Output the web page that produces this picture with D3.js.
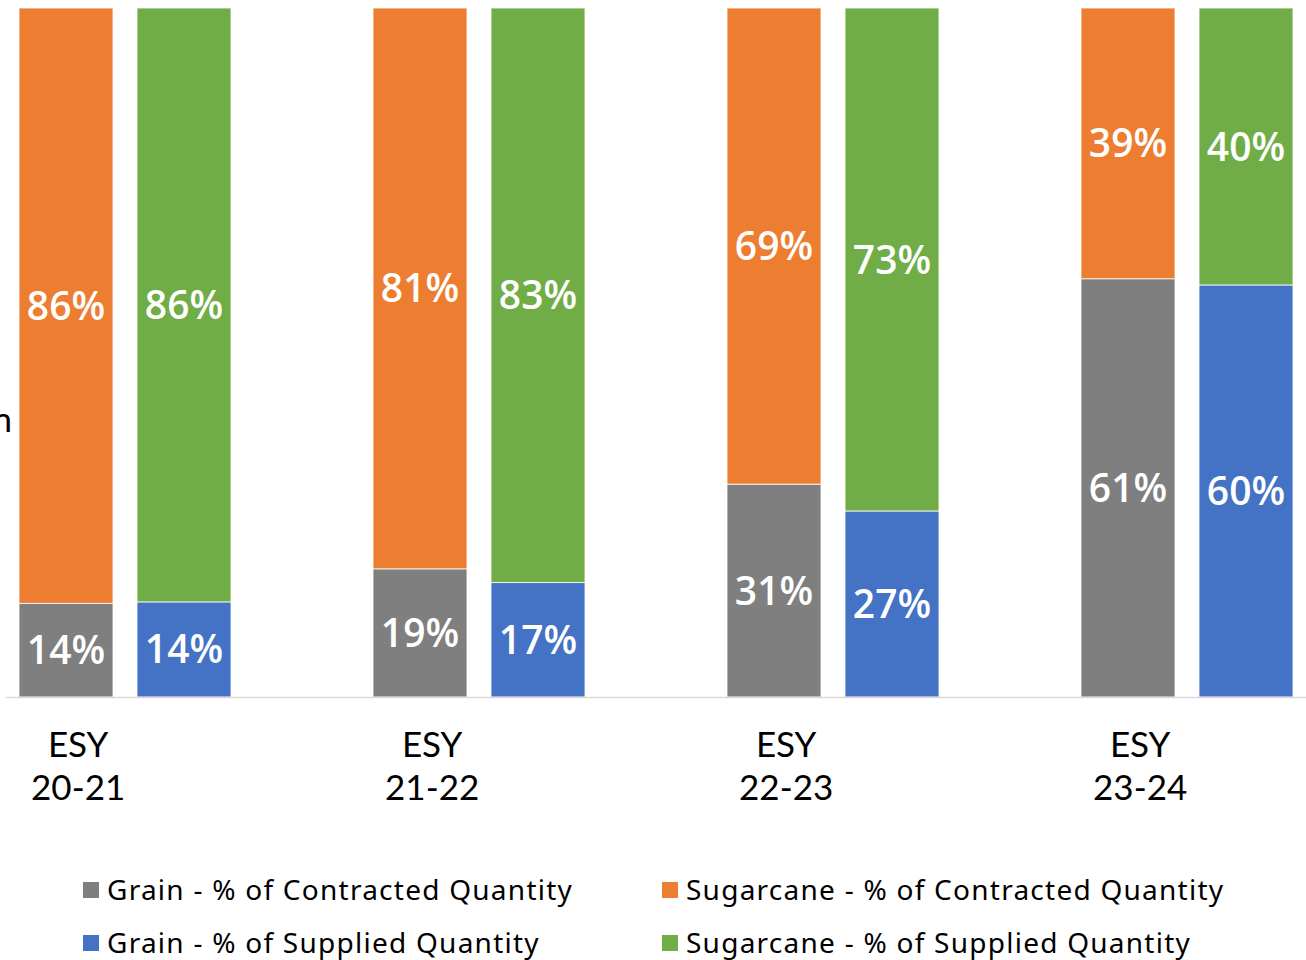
<!DOCTYPE html>
<html>
<head>
<meta charset="utf-8">
<script src="https://cdn.jsdelivr.net/npm/d3@7"></script>
<style>
  body { margin: 0; background: #fff; }
  svg { display: block; }
  .lbl { font-family: "Open Sans", sans-serif; font-weight: 600; font-size: 39px; fill: #fff; }
  .cat { font-family: Lato, sans-serif; font-size: 35px; fill: #000; }
  .leg { font-family: "Noto Sans", sans-serif; font-size: 28px; letter-spacing: 1.25px; fill: #000; }
</style>
</head>
<body>
<svg id="chart" width="1306" height="960"></svg>
<script>
// categories and series (labels show rounded values)
var categories = ["ESY 20-21", "ESY 21-22", "ESY 22-23", "ESY 23-24"];
var grainContracted = [13.6, 18.6, 30.9, 60.7];
var sugarContracted = [86.4, 81.4, 69.1, 39.3];
var grainSupplied = [13.8, 16.6, 27.0, 59.8];
var sugarSupplied = [86.2, 83.4, 73.0, 40.2];
var seriesNames = [
  "Grain - % of Contracted Quantity",
  "Sugarcane - % of Contracted Quantity",
  "Grain - % of Supplied Quantity",
  "Sugarcane - % of Supplied Quantity"
];
var colors = ["#7f7f7f", "#ed7d31", "#4472c4", "#70ad47"];

var svg = d3.select("#chart");
var baseY = 697, topY = 8;

var x0 = d3.scaleBand()
    .domain(categories)
    .range([19, 1293])
    .paddingInner(142 / 354)
    .paddingOuter(0);

var x1 = d3.scaleBand()
    .domain(["contracted", "supplied"])
    .range([0, x0.bandwidth()])
    .paddingInner(24 / 118)
    .paddingOuter(0);

var y = d3.scaleLinear()
    .domain([0, 100])
    .range([baseY, topY]);

var bars = [
  { kind: "contracted", bottom: grainContracted, top: sugarContracted, cBottom: colors[0], cTop: colors[1] },
  { kind: "supplied", bottom: grainSupplied, top: sugarSupplied, cBottom: colors[2], cTop: colors[3] }
];

// cropped axis title, only its last letter shows
svg.append("text")
    .attr("class", "cat")
    .attr("x", 12)
    .attr("y", 432)
    .attr("text-anchor", "end")
    .text("n");

bars.forEach(function (b) {
    var table = categories.map(function (c, i) {
        return { cat: c, bottom: b.bottom[i], top: b.top[i] };
    });
    var stacked = d3.stack().keys(["bottom", "top"])(table);
    var fills = { bottom: b.cBottom, top: b.cTop };

    stacked.forEach(function (layer) {
        var g = svg.append("g");
        g.selectAll("rect")
            .data(layer)
            .enter().append("rect")
            .attr("x", function (d) { return x0(d.data.cat) + x1(b.kind); })
            .attr("width", x1.bandwidth())
            .attr("y", function (d) { return y(d[1]); })
            .attr("height", function (d) { return y(d[0]) - y(d[1]); })
            .attr("fill", fills[layer.key])
            .attr("stroke", "#fff")
            .attr("stroke-width", 0.8);

        g.selectAll("text")
            .data(layer)
            .enter().append("text")
            .attr("class", "lbl")
            .attr("x", function (d) { return x0(d.data.cat) + x1(b.kind) + x1.bandwidth() / 2; })
            .attr("y", function (d) { return (y(d[0]) + y(d[1])) / 2; })
            .attr("dy", "0.36em")
            .attr("text-anchor", "middle")
            .text(function (d) { return Math.round(d.data[layer.key]) + "%"; });
    });
});

// baseline
svg.append("line")
    .attr("x1", 6).attr("x2", 1306)
    .attr("y1", baseY + 0.5).attr("y2", baseY + 0.5)
    .attr("stroke", "#d9d9d9")
    .attr("stroke-width", 1.5);

// category labels, two lines each
var cats = svg.selectAll(".catg")
    .data(categories)
    .enter().append("text")
    .attr("class", "cat")
    .attr("text-anchor", "middle")
    .attr("transform", function (d) { return "translate(" + (x0(d) + x0.bandwidth() * 0.279) + ",0)"; });
cats.append("tspan").attr("x", 0).attr("y", 757).text(function (d) { return d.split(" ")[0]; });
cats.append("tspan").attr("x", 0).attr("y", 800).text(function (d) { return d.split(" ")[1]; });

// legend, two columns
var legPos = [[83, 890], [662, 890], [83, 943], [662, 943]];
var leg = svg.selectAll(".legi")
    .data(seriesNames)
    .enter().append("g")
    .attr("transform", function (d, i) { return "translate(" + legPos[i][0] + "," + legPos[i][1] + ")"; });
leg.append("rect")
    .attr("x", 0).attr("y", -8)
    .attr("width", 16).attr("height", 16)
    .attr("fill", function (d, i) { return colors[i]; });
leg.append("text")
    .attr("class", "leg")
    .attr("x", 24)
    .attr("y", 10)
    .text(function (d) { return d; });
</script>
</body>
</html>
